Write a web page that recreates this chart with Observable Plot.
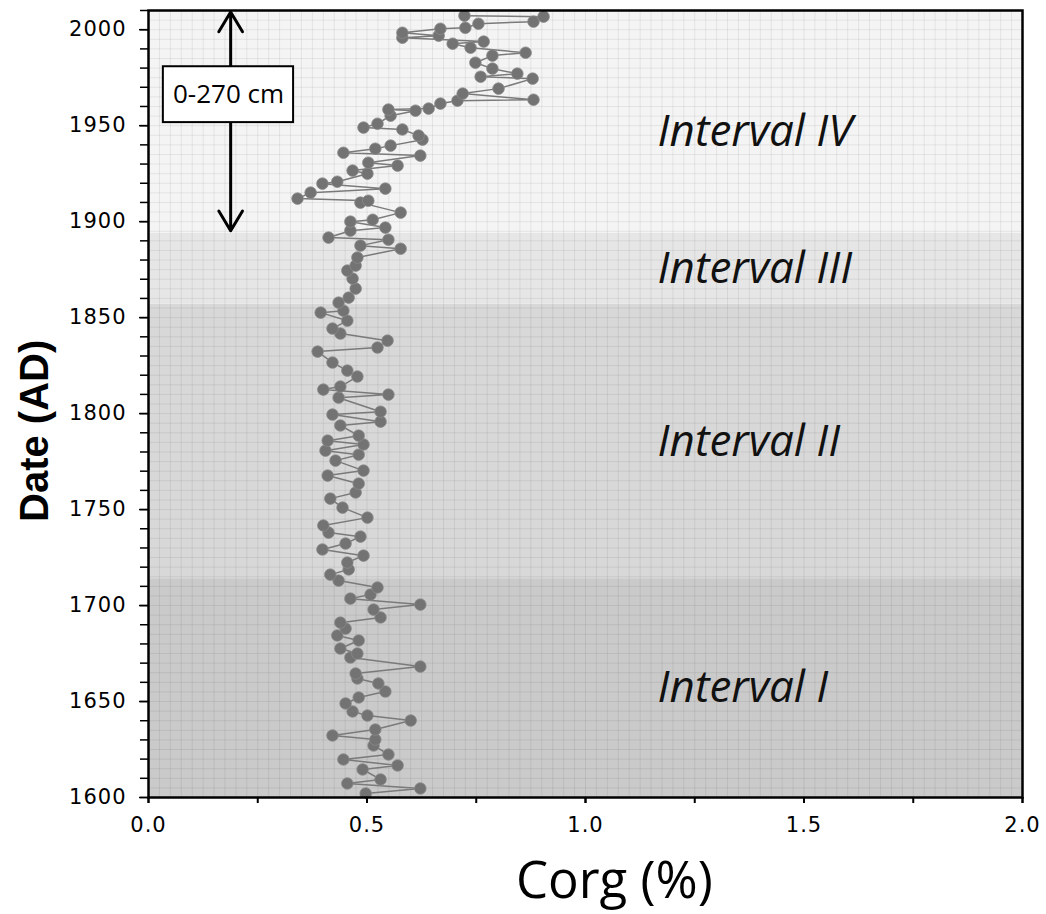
<!DOCTYPE html>
<html>
<head>
<meta charset="utf-8">
<script src="https://cdn.jsdelivr.net/npm/d3@7"></script>
<script src="https://cdn.jsdelivr.net/npm/@observablehq/plot@0.6"></script>
<style>
  html, body { margin: 0; padding: 0; background: #fff; }
  #chart svg { display: block; }
  #chart g[aria-label="x-axis tick label"] text,
  #chart g[aria-label="y-axis tick label"] text { letter-spacing: 1px; }
</style>
</head>
<body>
<div id="chart"></div>
<script>
// ---- data ----
const years = [
  1599.5, 1602.1, 1604.7, 1607.3, 1609.4, 1614.6, 1616.7, 1619.8, 1622.4, 1627.1,
  1630.2, 1632.3, 1635.4, 1640.1, 1642.7, 1644.8, 1649.0, 1652.1, 1655.2, 1659.4,
  1662.0, 1664.6, 1668.2, 1672.9, 1675.0, 1677.6, 1681.8, 1684.4, 1688.0, 1691.1,
  1693.8, 1697.9, 1700.5, 1703.6, 1705.7, 1709.4, 1713.0, 1716.1, 1718.8, 1722.4,
  1726.0, 1729.2, 1732.3, 1735.9, 1738.0, 1741.7, 1745.8, 1751.0, 1755.7, 1758.9,
  1763.5, 1767.7, 1770.3, 1775.5, 1778.6, 1780.7, 1783.9, 1785.9, 1788.5, 1793.8,
  1795.8, 1799.5, 1801.0, 1808.3, 1809.9, 1812.5, 1814.1, 1819.3, 1822.4, 1826.6,
  1832.3, 1834.4, 1838.0, 1841.7, 1844.3, 1848.4, 1852.6, 1853.6, 1857.8, 1860.4,
  1865.1, 1870.3, 1874.5, 1877.1, 1881.3, 1885.9, 1887.5, 1890.6, 1891.7, 1895.3,
  1896.9, 1900.0, 1901.0, 1904.7, 1909.9, 1910.9, 1912.0, 1915.1, 1917.2, 1919.8,
  1920.8, 1925.0, 1926.6, 1929.2, 1930.7, 1934.4, 1935.9, 1938.0, 1939.6, 1942.7,
  1944.8, 1948.0, 1949.0, 1951.0, 1955.2, 1957.8, 1958.4, 1958.9, 1961.5, 1963.0,
  1963.5, 1966.7, 1969.3, 1974.5, 1975.5, 1977.1, 1979.7, 1982.8, 1986.5, 1988.0,
  1990.6, 1992.7, 1993.8, 1995.8, 1996.9, 1998.4, 2000.5, 2001.0, 2003.1, 2004.2,
  2006.8, 2007.3
];
const corg = [
  0.497, 0.497, 0.622, 0.455, 0.531, 0.490, 0.570, 0.446, 0.549, 0.515,
  0.519, 0.421, 0.519, 0.600, 0.501, 0.467, 0.451, 0.481, 0.542, 0.526,
  0.478, 0.474, 0.622, 0.462, 0.478, 0.439, 0.481, 0.432, 0.451, 0.439,
  0.531, 0.515, 0.622, 0.462, 0.508, 0.524, 0.435, 0.416, 0.458, 0.455,
  0.492, 0.398, 0.451, 0.485, 0.412, 0.400, 0.501, 0.444, 0.416, 0.474,
  0.481, 0.410, 0.492, 0.428, 0.481, 0.405, 0.492, 0.410, 0.481, 0.439,
  0.531, 0.421, 0.531, 0.435, 0.549, 0.400, 0.439, 0.478, 0.455, 0.421,
  0.387, 0.524, 0.547, 0.439, 0.421, 0.455, 0.394, 0.446, 0.435, 0.458,
  0.474, 0.467, 0.455, 0.474, 0.478, 0.577, 0.485, 0.549, 0.412, 0.462,
  0.542, 0.462, 0.513, 0.577, 0.485, 0.503, 0.341, 0.371, 0.542, 0.398,
  0.432, 0.501, 0.467, 0.570, 0.503, 0.622, 0.446, 0.519, 0.554, 0.627,
  0.618, 0.581, 0.492, 0.524, 0.554, 0.611, 0.549, 0.641, 0.668, 0.707,
  0.881, 0.719, 0.801, 0.879, 0.760, 0.844, 0.787, 0.748, 0.787, 0.863,
  0.737, 0.696, 0.767, 0.581, 0.664, 0.581, 0.668, 0.725, 0.755, 0.881,
  0.904, 0.723
];

const intervalNames = ["Interval I", "Interval II", "Interval III", "Interval IV"];
const intervalStart = [1600, 1714, 1857, 1894];
const intervalEnd   = [1714, 1857, 1894, 2010];

const yTicks = [1600, 1650, 1700, 1750, 1800, 1850, 1900, 1950, 2000];
const xTicks = [0, 0.5, 1.0, 1.5, 2.0];
const xLabel = "Corg (%)";
const yLabel = "Date (AD)";
const depthLabel = "0-270 cm";
const depthTop = 2009.2, depthBottom = 1895.3;

// ---- tables built from the arrays ----
const samples = years.map((y, i) => ({year: y, corg: corg[i]}));
const intervals = intervalNames.map((n, i) => ({
  name: n, start: intervalStart[i], end: intervalEnd[i],
  mid: (intervalStart[i] + Math.min(intervalEnd[i], 2000)) / 2
}));

const bandColors = ["#cacaca", "#d8d8d8", "#e6e6e6", "#f4f4f4"];
const tickFont = "'DejaVu Sans', sans-serif";

const plot = Plot.plot({
  width: 1046,
  height: 914,
  marginLeft: 148,
  marginRight: 24,
  marginTop: 10,
  marginBottom: 117,
  x: {domain: [0, 2]},
  y: {domain: [1600, 2010]},
  color: {domain: intervalNames, range: bandColors},
  style: {fontFamily: tickFont, background: "#fff"},
  marks: [
    // background bands
    Plot.rectY(intervals, {x1: 0, x2: 2, y1: "start", y2: "end", fill: "name"}),
    // fine grid texture
    Plot.ruleX(d3.range(0.025, 2, 0.025), {stroke: "#000", strokeOpacity: 0.07, strokeWidth: 1}),
    Plot.ruleY(d3.range(1605, 2010, 5), {stroke: "#000", strokeOpacity: 0.07, strokeWidth: 1}),
    // interval labels
    Plot.text(intervals, {
      x: 1.165, y: "mid", text: "name", textAnchor: "start",
      fontSize: 44, fontStyle: "italic", fontFamily: "'Open Sans', sans-serif", fill: "#111"
    }),
    // data
    Plot.line(samples, {x: "corg", y: "year", stroke: "#7a7a7a", strokeWidth: 1.5}),
    Plot.dot(samples, {x: "corg", y: "year", r: 5.8, fill: "#737373", stroke: "#8a8a8a", strokeWidth: 0.8, clip: true}),
    // depth annotation arrow and box
    Plot.arrow([{y1: 1966, y2: depthTop}, {y1: 1966, y2: depthBottom}], {
      x1: 0.188, x2: 0.188, y1: "y1", y2: "y2", stroke: "#000", strokeWidth: 3,
      headLength: 11.5, headAngle: 62
    }),
    Plot.rect([{x1: 0.034, x2: 0.332, y1: 1951.6, y2: 1980.7}], {
      x1: "x1", x2: "x2", y1: "y1", y2: "y2", fill: "#fff", stroke: "#000", strokeWidth: 2
    }),
    Plot.text([depthLabel], {
      x: 0.183, y: 1966.2, text: d => d, fontSize: 26,
      fontFamily: "'Open Sans', sans-serif", fill: "#000"
    }),
    // axes
    Plot.axisY(d3.range(1600, 2011, 10), {tickSize: 8, text: null, strokeWidth: 1.5, stroke: "#000"}),
    Plot.axisY(yTicks, {
      tickSize: 9, tickPadding: 13, tickFormat: d => String(d),
      fontSize: 21, fill: "#000", stroke: "#000", strokeWidth: 1.5, label: null
    }),
    Plot.axisX(d3.range(0, 2.01, 0.25), {tickSize: 6, text: null, strokeWidth: 2, stroke: "#000"}),
    Plot.axisX(xTicks, {
      tickSize: 6, tickPadding: 14, tickFormat: d3.format(".1f"),
      fontSize: 21, fill: "#000", stroke: "#000", strokeWidth: 2, label: null
    }),
    Plot.frame({stroke: "#000", strokeWidth: 2.5}),
    // axis titles
    Plot.text([xLabel], {
      x: 1.066, frameAnchor: "bottom", dy: 100, text: d => d, fontSize: 51,
      fontFamily: "'Open Sans', sans-serif", fill: "#000"
    }),
    Plot.text([yLabel], {
      y: 1791, frameAnchor: "left", dx: -113, rotate: -90, textAnchor: "middle",
      text: d => d, fontSize: 40, fontWeight: "bold",
      fontFamily: "'Liberation Sans', Arial, sans-serif", fill: "#000"
    })
  ]
});

document.getElementById("chart").appendChild(plot);
</script>
</body>
</html>
